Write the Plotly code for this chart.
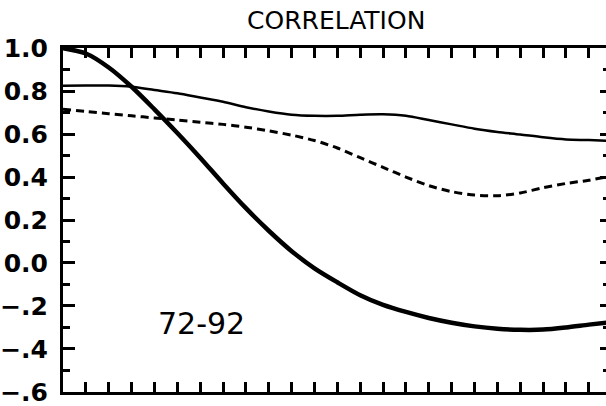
import plotly.graph_objects as go

# Lag axis (0..24) and the three correlation curves
lags = list(range(25))

corr_thick = [1.00, 0.975, 0.91, 0.82, 0.715, 0.605, 0.49, 0.37, 0.255, 0.15,
              0.055, -0.025, -0.09, -0.15, -0.195, -0.228, -0.256, -0.278,
              -0.295, -0.306, -0.311, -0.31, -0.30, -0.287, -0.275]

corr_thin = [0.825, 0.826, 0.826, 0.82, 0.805, 0.79, 0.77, 0.75, 0.725, 0.705,
             0.69, 0.685, 0.685, 0.69, 0.692, 0.685, 0.665, 0.645, 0.625,
             0.61, 0.598, 0.585, 0.575, 0.572, 0.568]

corr_dashed = [0.715, 0.705, 0.695, 0.685, 0.675, 0.665, 0.655, 0.645, 0.632,
               0.615, 0.595, 0.57, 0.535, 0.49, 0.445, 0.40, 0.36, 0.332,
               0.316, 0.313, 0.326, 0.35, 0.37, 0.385, 0.405]

y_ticks = [1.0, 0.8, 0.6, 0.4, 0.2, 0.0, -0.2, -0.4, -0.6]
y_tick_text = ["1.0", "0.8", "0.6", "0.4", "0.2", "0.0", "\u2212.2", "\u2212.4", "\u2212.6"]

period_label = "72-92"
title_text = "CORRELATION"

FONT = "DejaVu Sans"

fig = go.Figure()

fig.add_trace(go.Scatter(x=lags, y=corr_thin, mode="lines",
                         line=dict(color="black", width=2.5, shape="spline", smoothing=0.8),
                         hoverinfo="skip", showlegend=False))
fig.add_trace(go.Scatter(x=lags, y=corr_dashed, mode="lines",
                         line=dict(color="black", width=3, dash="8px,5px", shape="spline", smoothing=0.8),
                         hoverinfo="skip", showlegend=False))
fig.add_trace(go.Scatter(x=lags, y=corr_thick, mode="lines",
                         line=dict(color="black", width=4.5, shape="spline", smoothing=0.8),
                         hoverinfo="skip", showlegend=False))
# invisible trace so the right-hand tick axis is rendered
fig.add_trace(go.Scatter(x=[0], y=[0], yaxis="y2", mode="lines", opacity=0,
                         hoverinfo="skip", showlegend=False))

Y_RANGE = [-0.6005, 1.0005]

fig.update_layout(
    width=606, height=406,
    margin=dict(l=63, r=0, t=48, b=14),
    paper_bgcolor="white", plot_bgcolor="white",
    font=dict(family=FONT, color="black"),
    xaxis=dict(range=[0, 23.75], showgrid=False, zeroline=False,
               showline=True, linecolor="black", linewidth=3, mirror="allticks",
               tickmode="linear", tick0=0, dtick=2, ticks="inside",
               ticklen=10, tickwidth=2.5, tickcolor="black",
               minor=dict(dtick=1, tick0=0, ticks="inside", ticklen=5,
                          tickwidth=2.5, tickcolor="black"),
               showticklabels=False),
    yaxis=dict(range=Y_RANGE, showgrid=False, zeroline=False,
               showline=True, linecolor="black", linewidth=3, mirror=False,
               tickmode="array", tickvals=y_ticks, ticktext=y_tick_text,
               ticks="inside", ticklen=12, tickwidth=2.5, tickcolor="black",
               minor=dict(dtick=0.1, tick0=0, ticks="inside", ticklen=7,
                          tickwidth=2.5, tickcolor="black"),
               tickfont=dict(family=FONT, size=25, color="black", weight="bold"),
               ticklabelstandoff=7, ticklabeloverflow="allow"),
    yaxis2=dict(range=Y_RANGE, overlaying="y", side="right",
                showgrid=False, zeroline=False, showline=False,
                tickmode="array", tickvals=y_ticks, ticks="inside",
                ticklen=6, tickwidth=2.5, tickcolor="black",
                minor=dict(dtick=0.1, tick0=0, ticks="inside", ticklen=3,
                           tickwidth=2.5, tickcolor="black"),
                showticklabels=False),
    annotations=[
        dict(text=title_text, xref="paper", yref="paper", x=0.503, y=1.0785,
             xanchor="center", yanchor="middle", showarrow=False,
             font=dict(family=FONT, size=25, color="black")),
        dict(text=period_label, xref="x", yref="y", x=6.05, y=-0.28,
             xanchor="center", yanchor="middle", showarrow=False,
             font=dict(family=FONT, size=30, color="black")),
    ],
)

fig.write_html("out.html")
